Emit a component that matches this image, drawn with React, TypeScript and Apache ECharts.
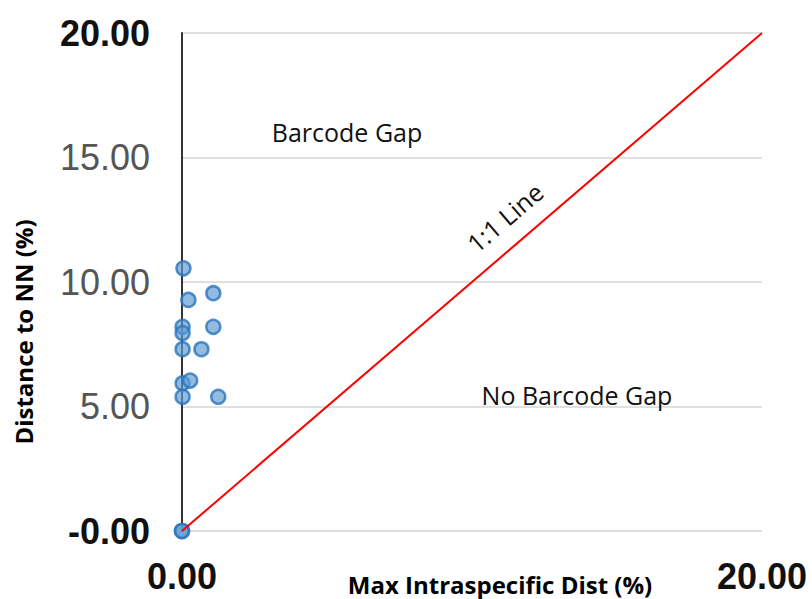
import React, { useEffect, useRef } from "react";
import * as echarts from "echarts";

const xValues = [0.05, 0.22, 1.08, 0.02, 0.02, 1.08, 0.02, 0.67, 0.02, 0.28, 0.02, 1.25, 0, 0];
const yValues = [10.55, 9.28, 9.55, 8.2, 7.95, 8.2, 7.3, 7.3, 5.93, 6.04, 5.39, 5.39, 0, 0];
const lineX = [0, 20];
const lineY = [0, 20];
const annotations = [
  { text: "Barcode Gap", x: 5.69, y: 16.02, rot: 0 },
  { text: "No Barcode Gap", x: 13.62, y: 5.46, rot: 0 },
  { text: "1:1 Line", x: 11.13, y: 12.6, rot: 40.6 },
];

const fmt = (v: number) => (v === 0 ? "-0.00" : v.toFixed(2));

export default function App() {
  const ref = useRef<HTMLDivElement>(null);
  useEffect(() => {
    const chart = echarts.init(ref.current!, null, { renderer: "svg" });
    const edge = (v: number) => v === 0 || v === 20;
    chart.setOption({
      animation: false,
      backgroundColor: "#ffffff",
      grid: { left: 182, right: 50, top: 33, bottom: 68, containLabel: false, outerBoundsMode: "none" },
      xAxis: {
        type: "value",
        min: 0,
        max: 20,
        interval: 20,
        name: "Max Intraspecific Dist (%)",
        nameLocation: "middle",
        nameGap: 41,
        nameMoveOverlap: false,
        nameTextStyle: {
          fontFamily: "Open Sans",
          fontWeight: "bold",
          fontSize: 24,
          color: "#000",
          padding: [0, 0, 0, 56],
        },
        axisLine: { show: false },
        axisTick: { show: false },
        splitLine: { show: false },
        axisLabel: {
          margin: 27,
          fontFamily: "Liberation Sans",
          fontSize: 36,
          fontWeight: "bold",
          color: "#111",
          formatter: (v: number) => v.toFixed(2),
        },
      },
      yAxis: {
        type: "value",
        min: 0,
        max: 20,
        interval: 5,
        name: "Distance to NN (%)",
        nameLocation: "middle",
        nameGap: 147,
        nameMoveOverlap: false,
        nameTextStyle: {
          fontFamily: "Open Sans",
          fontWeight: "bold",
          fontSize: 24,
          color: "#000",
          padding: [0, 100, 0, 0],
        },
        axisLine: { show: true, lineStyle: { color: "#333", width: 2 } },
        axisTick: { show: false },
        splitLine: { show: true, lineStyle: { color: "#e0e0e0", width: 2 } },
        axisLabel: {
          margin: 32,
          fontFamily: "Liberation Sans",
          fontSize: 36,
          formatter: (v: number) => (edge(v) ? `{b|${fmt(v)}}` : `{g|${fmt(v)}}`),
          rich: {
            b: { fontFamily: "Liberation Sans", fontSize: 36, fontWeight: "bold", color: "#111" },
            g: { fontFamily: "Liberation Sans", fontSize: 36, color: "#555" },
          },
        },
      },
      series: [
        {
          type: "scatter",
          data: xValues.map((x, i) => [x, yValues[i]]),
          symbolSize: 14,
          itemStyle: { color: "rgba(95,155,212,0.85)", borderColor: "#2a76ba", borderWidth: 2.5 },
          z: 2,
        },
        {
          type: "line",
          data: lineX.map((x, i) => [x, lineY[i]]),
          symbol: "none",
          lineStyle: { color: "#ff0000", width: 2 },
          z: 3,
        },
      ],
    });
    const graphic = annotations.map((a) => {
      const [px, py] = chart.convertToPixel({ gridIndex: 0 }, [a.x, a.y]) as number[];
      return {
        type: "text",
        x: px,
        y: py,
        rotation: (a.rot * Math.PI) / 180,
        style: {
          text: a.text,
          fontFamily: "Open Sans",
          fontSize: 25,
          fill: "#111",
          align: "center",
          verticalAlign: "middle",
        },
      };
    });
    chart.setOption({ graphic });
    return () => chart.dispose();
  }, []);
  return (
    <div
      ref={ref}
      style={{ position: "fixed", left: 0, top: 0, width: 812, height: 599 }}
    />
  );
}
